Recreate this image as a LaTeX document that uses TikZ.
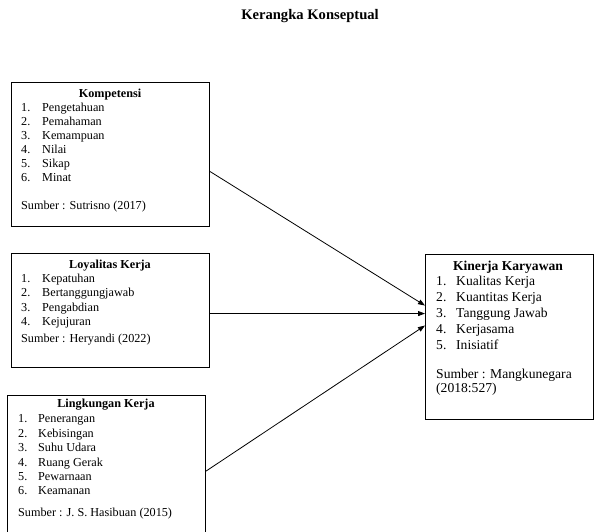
\documentclass[tikz,border=0pt]{standalone}
\usepackage{fontspec}
\setmainfont{Liberation Serif}
\usetikzlibrary{arrows.meta}
\tikzset{
  box/.style={draw=black, line width=1.1pt, inner sep=0pt, anchor=north west},
  fixh/.style={text height=0.68em, text depth=0em},
  txt/.style={fixh, anchor=west, inner sep=0pt, font=\fontsize{12.2}{13}\selectfont},
  ttl/.style={fixh, anchor=center, inner sep=0pt, font=\fontsize{12.2}{13}\selectfont\bfseries},
  txtb/.style={fixh, anchor=west, inner sep=0pt, font=\fontsize{13.6}{14}\selectfont},
  ttlb/.style={fixh, anchor=center, inner sep=0pt, font=\fontsize{13.6}{14}\selectfont\bfseries},
  arr/.style={draw=black, line width=0.8pt, -{Triangle[length=7pt,width=5pt]}}
}
\begin{document}
\begin{tikzpicture}[x=1pt,y=-1pt]
\useasboundingbox (0,0) rectangle (594,532);
% title
\node[fixh, anchor=center, inner sep=0pt, font=\fontsize{14.6}{16}\selectfont\bfseries] (title) at (310,16) {Kerangka Konseptual};
% boxes
\node[box, minimum width=198pt, minimum height=144pt] (k) at (11,82) {};
\node[box, minimum width=198pt, minimum height=114pt] (l) at (11,253) {};
\node[box, minimum width=198pt, minimum height=150pt] (g) at (7,395) {};
\node[box, minimum width=168pt, minimum height=165pt] (kk) at (425,254) {};
% Kompetensi
\node[ttl] (kt) at (110,94) {Kompetensi};
\node[txt] (k1n) at (21,108) {1.}; \node[txt] (k1) at (42,108) {Pengetahuan};
\node[txt] (k2n) at (21,122) {2.}; \node[txt] (k2) at (42,122) {Pemahaman};
\node[txt] (k3n) at (21,136.5) {3.}; \node[txt] (k3) at (42,136.5) {Kemampuan};
\node[txt] (k4n) at (21,150.5) {4.}; \node[txt] (k4) at (42,150.5) {Nilai};
\node[txt] (k5n) at (21,164.5) {5.}; \node[txt] (k5) at (42,164.5) {Sikap};
\node[txt] (k6n) at (21,178.5) {6.}; \node[txt] (k6) at (42,178.5) {Minat};
\node[txt] (ks) at (21,206) {Sumber : Sutrisno (2017)};
% Loyalitas
\node[ttl] (lt) at (110,265) {Loyalitas Kerja};
\node[txt] (l1n) at (21,279) {1.}; \node[txt] (l1) at (42,279) {Kepatuhan};
\node[txt] (l2n) at (21,293.5) {2.}; \node[txt] (l2) at (42,293.5) {Bertanggungjawab};
\node[txt] (l3n) at (21,308) {3.}; \node[txt] (l3) at (42,308) {Pengabdian};
\node[txt] (l4n) at (21,322.5) {4.}; \node[txt] (l4) at (42,322.5) {Kejujuran};
\node[txt] (ls) at (21,339) {Sumber : Heryandi (2022)};
% Lingkungan
\node[ttl] (gt) at (106,404) {Lingkungan Kerja};
\node[txt] (g1n) at (18,419) {1.}; \node[txt] (g1) at (38,419) {Penerangan};
\node[txt] (g2n) at (18,434) {2.}; \node[txt] (g2) at (38,434) {Kebisingan};
\node[txt] (g3n) at (18,448) {3.}; \node[txt] (g3) at (38,448) {Suhu Udara};
\node[txt] (g4n) at (18,463) {4.}; \node[txt] (g4) at (38,463) {Ruang Gerak};
\node[txt] (g5n) at (18,477) {5.}; \node[txt] (g5) at (38,477) {Pewarnaan};
\node[txt] (g6n) at (18,491) {6.}; \node[txt] (g6) at (38,491) {Keamanan};
\node[txt] (gs) at (18,513) {Sumber : J. S. Hasibuan (2015)};
% Kinerja
\node[ttlb] (kkt) at (508,267) {Kinerja Karyawan};
\node[txtb] (c1n) at (436,282) {1.}; \node[txtb] (c1) at (456,282) {Kualitas Kerja};
\node[txtb] (c2n) at (436,298) {2.}; \node[txtb] (c2) at (456,298) {Kuantitas Kerja};
\node[txtb] (c3n) at (436,314.5) {3.}; \node[txtb] (c3) at (456,314.5) {Tanggung Jawab};
\node[txtb] (c4n) at (436,330) {4.}; \node[txtb] (c4) at (456,330) {Kerjasama};
\node[txtb] (c5n) at (436,346) {5.}; \node[txtb] (c5) at (456,346) {Inisiatif};
\node[txtb] (cs1) at (436,375) {Sumber : Mangkunegara};
\node[txtb] (cs2) at (436,389) {(2018:527)};
% arrows
\draw[arr] ([yshift=-17pt]k.east) -- ([yshift=31.5pt]kk.west);
\draw[arr] ([yshift=-3pt]l.east) -- ([yshift=23.5pt]kk.west);
\draw[arr] ([yshift=-0.5pt]g.east) -- ([yshift=11.5pt]kk.west);
\end{tikzpicture}
\end{document}
